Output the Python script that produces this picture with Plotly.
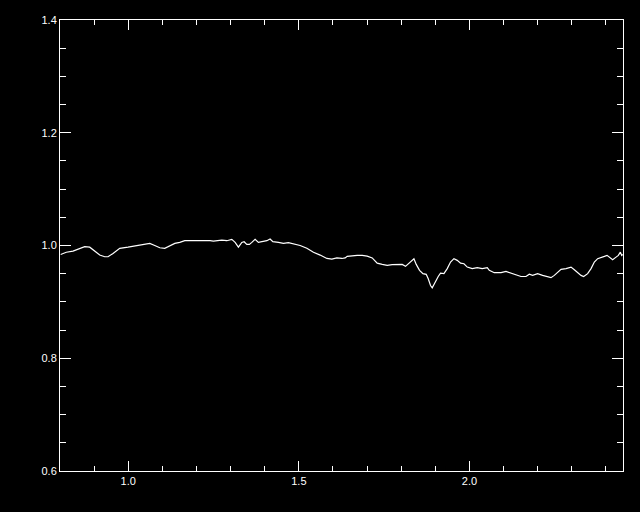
import plotly.graph_objects as go

wavelength = [0.802, 0.8185, 0.8381, 0.8578, 0.8724, 0.8871, 0.9018, 0.9164, 0.9311, 0.9408,
              0.9554, 0.9751, 0.9994, 1.0238, 1.0434, 1.0631, 1.0777, 1.0924, 1.1070, 1.1217,
              1.1364, 1.1510, 1.1657, 1.1850, 1.2047, 1.2194, 1.2399, 1.2496, 1.2742, 1.2889,
              1.3035, 1.3132, 1.3229, 1.3328, 1.3396, 1.3475, 1.3551, 1.3622, 1.3718, 1.3815,
              1.3915, 1.4012, 1.4062, 1.4158, 1.4238, 1.4402, 1.4549, 1.4695, 1.4842, 1.5038,
              1.5235, 1.5428, 1.5625, 1.5821, 1.5968, 1.6115, 1.6261, 1.6358, 1.6417, 1.6563,
              1.6710, 1.6856, 1.7003, 1.7150, 1.7296, 1.7443, 1.7590, 1.7736, 1.7883, 1.8029,
              1.8126, 1.8226, 1.8323, 1.8373, 1.8440, 1.8537, 1.8637, 1.8733, 1.8792, 1.8859,
              1.8909, 1.8988, 1.9085, 1.9152, 1.9252, 1.9349, 1.9446, 1.9545, 1.9642, 1.9739,
              1.9839, 1.9936, 2.0082, 2.0229, 2.0375, 2.0522, 2.0581, 2.0727, 2.0924, 2.1071,
              2.1217, 2.1364, 2.1511, 2.1657, 2.1754, 2.1851, 2.1997, 2.2144, 2.2291, 2.2390,
              2.2487, 2.2584, 2.2684, 2.2830, 2.2977, 2.3074, 2.3170, 2.3270, 2.3346, 2.3464,
              2.3563, 2.3660, 2.3757, 2.3857, 2.3954, 2.4033, 2.4100, 2.4197, 2.4297, 2.4364,
              2.4423, 2.4461, 2.4491]

flux = [0.984, 0.988, 0.990, 0.994, 0.998, 0.997, 0.990, 0.983, 0.980, 0.980,
        0.986, 0.995, 0.997, 1.000, 1.0025, 1.0037, 1.000, 0.996, 0.995, 0.999,
        1.0037, 1.0055, 1.0085, 1.0085, 1.0085, 1.0096, 1.0085, 1.0078, 1.0096, 1.0085,
        1.0108, 1.0055, 0.997, 1.0055, 1.0067, 1.002, 1.002, 1.0055, 1.0108, 1.0055,
        1.0067, 1.0078, 1.0085, 1.0114, 1.0067, 1.0055, 1.0037, 1.005, 1.0025, 1.000,
        0.995, 0.988, 0.983, 0.977, 0.976, 0.978, 0.977, 0.978, 0.9807, 0.982,
        0.9825, 0.9825, 0.9812, 0.978, 0.9688, 0.9665, 0.9647, 0.966, 0.966, 0.9665,
        0.963, 0.9688, 0.9748, 0.9766, 0.9665, 0.956, 0.950, 0.9488, 0.941, 0.929,
        0.925, 0.935, 0.945, 0.951, 0.950, 0.959, 0.9706, 0.9766, 0.9736, 0.9688,
        0.9677, 0.9617, 0.959, 0.9606, 0.959, 0.9606, 0.956, 0.9518, 0.9518, 0.954,
        0.951, 0.948, 0.945, 0.945, 0.949, 0.947, 0.950, 0.947, 0.945, 0.943,
        0.947, 0.9529, 0.9576, 0.959, 0.9617, 0.957, 0.9518, 0.947, 0.945, 0.950,
        0.959, 0.9706, 0.9766, 0.978, 0.9807, 0.9825, 0.9794, 0.9748, 0.9794, 0.9825,
        0.9883, 0.9825, 0.9842]

x_range = [0.8, 2.45]
y_range = [0.6, 1.4]

fig = go.Figure()
fig.add_trace(go.Scatter(x=wavelength, y=flux, mode="lines",
                         line=dict(color="white", width=1.2), showlegend=False,
                         hoverinfo="skip"))

axis_common = dict(showline=True, linecolor="white", linewidth=1, mirror="allticks",
                   ticks="inside", tickcolor="white", tickwidth=1,
                   showgrid=False, zeroline=False,
                   tickfont=dict(family="Liberation Sans, Arial, sans-serif", size=11, color="white"))

fig.update_layout(
    width=640, height=512,
    margin=dict(l=60, r=17, t=20, b=41),
    paper_bgcolor="black", plot_bgcolor="black",
    xaxis=dict(range=x_range, tick0=0, dtick=0.5, ticklen=10, tickformat=".1f",
               minor=dict(dtick=0.1, tick0=0, ticklen=5, ticks="inside", tickcolor="white", showgrid=False),
               **axis_common),
    yaxis=dict(range=y_range, tick0=0, dtick=0.2, ticklen=11, tickformat=".1f",
               minor=dict(dtick=0.05, tick0=0, ticklen=6, ticks="inside", tickcolor="white", showgrid=False),
               **axis_common),
)

fig.write_html("out.html", config={"displayModeBar": False},
               post_script="document.body.style.margin='0';document.body.style.padding='0';"
                           "document.body.style.background='black';")
